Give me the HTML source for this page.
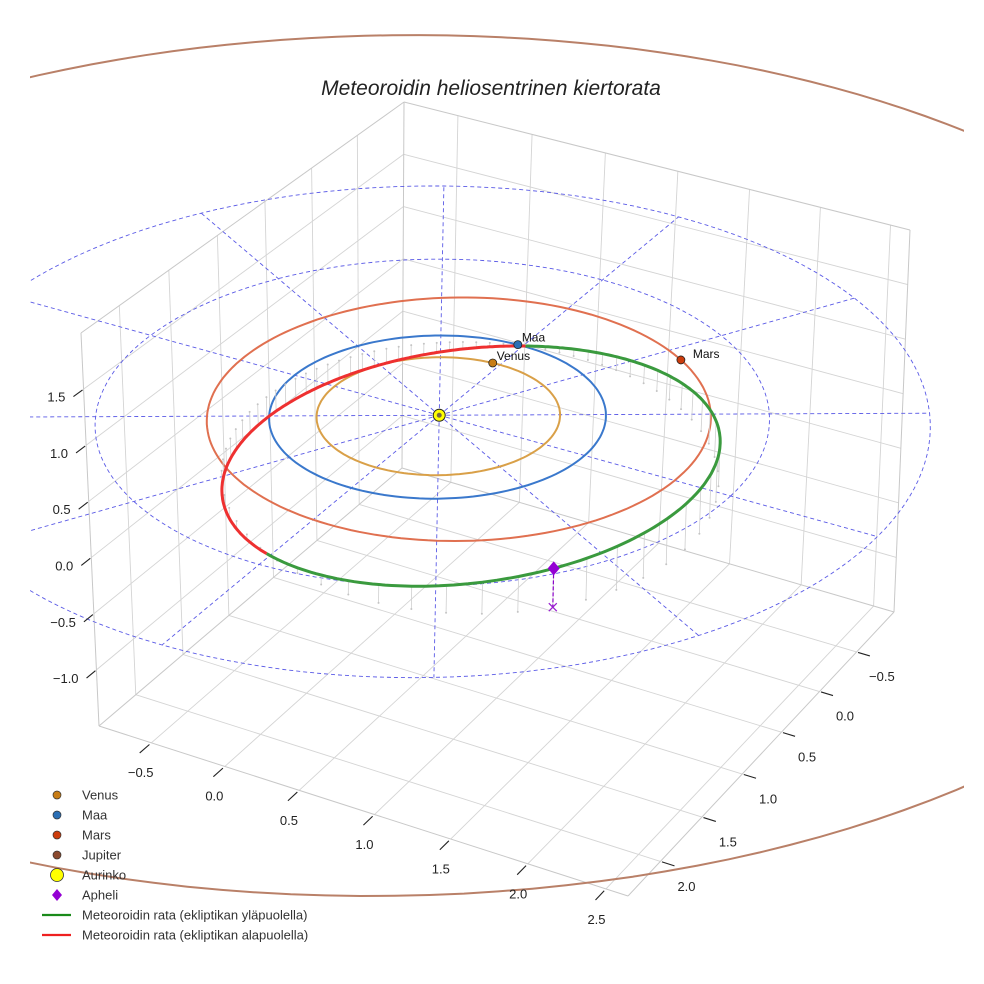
<!DOCTYPE html>
<html><head><meta charset="utf-8"><style>
html,body{margin:0;padding:0;background:#fff;}
svg{display:block;font-family:"Liberation Sans",sans-serif;}
</style></head><body>
<svg id="chart" width="984" height="984" viewBox="0 0 984 984" xmlns="http://www.w3.org/2000/svg">
<defs><clipPath id="clipA"><rect x="30" y="30" width="934" height="930"/></clipPath></defs>
<rect width="984" height="984" fill="#fff"/>
<text x="491" y="95" text-anchor="middle" font-size="21" font-style="italic" fill="#222">Meteoroidin heliosentrinen kiertorata</text>
<g id="grid"></g>
<g id="plot" clip-path="url(#clipA)"></g>
<g id="ticks"></g>
<g id="legend"></g>
</svg>
<script>
// ---- data ----
const xTicks=[-0.5,0,0.5,1,1.5,2,2.5];
const yTicks=[-0.5,0,0.5,1,1.5,2];
const zTicks=[-1,-0.5,0,0.5,1,1.5];
const xTickLabels=['\u22120.5','0.0','0.5','1.0','1.5','2.0','2.5'];
const yTickLabels=['\u22120.5','0.0','0.5','1.0','1.5','2.0'];
const zTickLabels=['\u22121.0','\u22120.5','0.0','0.5','1.0','1.5'];
const planetNames=['Venus','Maa','Mars'];
const planetRadii=[0.723,1.0,1.5];
const planetEcc=[0,0,0.093];
const planetPeri=[0,0,150];
const planetAngles=[-94,-92,-55];
const jupiterRadius=[5.2];
const refCircleRadii=[2,3];
const refRadialAngles=[0,30,60,90,120,150,180,210,240,270,300,330];
const meteorA=[1.639];
const meteorE=[0.45];
const meteorInc=[11];
const meteorNode=[270];
const meteorPeri=[313];
// ---- axes box ----
const xmin=-0.86,xmax=2.64,ymin=-1.02,ymax=2.38,zmin=-1.5,zmax=2.0;
const botC={B:[402,468],R:[894,612],F:[628,896],L:[99,726]};
const topC={B:[404,102],R:[910,230],F:[634,460],L:[81,333]};
function lerp(p,q,t){return [p[0]+(q[0]-p[0])*t,p[1]+(q[1]-p[1])*t];}
function proj(x,y,z){
  const u=(x-xmin)/(xmax-xmin),v=(y-ymin)/(ymax-ymin),w=(z-zmin)/(zmax-zmin);
  const p0=lerp(botC.B,topC.B,w),p1=lerp(botC.R,topC.R,w),p2=lerp(botC.F,topC.F,w),p3=lerp(botC.L,topC.L,w);
  const sx=p0[0]-p1[0]+p2[0]-p3[0],sy=p0[1]-p1[1]+p2[1]-p3[1];
  const dx1=p1[0]-p2[0],dx2=p3[0]-p2[0],dy1=p1[1]-p2[1],dy2=p3[1]-p2[1];
  const den=dx1*dy2-dx2*dy1;
  const g=(sx*dy2-dx2*sy)/den,h=(dx1*sy-sx*dy1)/den;
  const A=p1[0]-p0[0]+g*p1[0],Bc=p3[0]-p0[0]+h*p3[0],C=p0[0];
  const D=p1[1]-p0[1]+g*p1[1],E=p3[1]-p0[1]+h*p3[1],Fc=p0[1];
  const W=g*u+h*v+1;
  return [(A*u+Bc*v+C)/W,(D*u+E*v+Fc)/W];
}
const NS='http://www.w3.org/2000/svg';
function mk(tag,attrs,parent){const el=document.createElementNS(NS,tag);for(const k in attrs)el.setAttribute(k,attrs[k]);parent.appendChild(el);return el;}
function line3(p,q,style,parent){const s=proj(p[0],p[1],p[2]),t=proj(q[0],q[1],q[2]);return mk('line',Object.assign({x1:s[0],y1:s[1],x2:t[0],y2:t[1]},style),parent);}
function poly(pts){return pts.map(p=>p[0].toFixed(1)+','+p[1].toFixed(1)).join(' ');}
const gridG=document.getElementById('grid'),plotG=document.getElementById('plot'),ticksG=document.getElementById('ticks'),legendG=document.getElementById('legend');
const gs={stroke:'#d4d4d4','stroke-width':0.9};
const es={stroke:'#c8c8c8','stroke-width':1};
xTicks.forEach(x=>{const l=line3([x,ymin,zmin],[x,ymax,zmin],gs,gridG);

});
yTicks.forEach(y=>{const l=line3([xmin,y,zmin],[xmax,y,zmin],gs,gridG);

});
yTicks.forEach(y=>{const l=line3([xmin,y,zmin],[xmin,y,zmax],gs,gridG);

});
zTicks.forEach(z=>{const l=line3([xmin,ymin,z],[xmin,ymax,z],gs,gridG);

});
xTicks.forEach(x=>{const l=line3([x,ymin,zmin],[x,ymin,zmax],gs,gridG);

});
zTicks.forEach(z=>{const l=line3([xmin,ymin,z],[xmax,ymin,z],gs,gridG);

});
[[[xmin,ymax,zmin],[xmin,ymax,zmax]],[[xmax,ymin,zmin],[xmax,ymin,zmax]],[[xmin,ymin,zmax],[xmin,ymax,zmax]],[[xmin,ymin,zmax],[xmax,ymin,zmax]],[[xmin,ymax,zmin],[xmax,ymax,zmin]],[[xmax,ymin,zmin],[xmax,ymax,zmin]],[[xmin,ymin,zmin],[xmin,ymax,zmin]],[[xmin,ymin,zmin],[xmax,ymin,zmin]],[[xmin,ymin,zmin],[xmin,ymin,zmax]]].forEach(s=>{const l=line3(s[0],s[1],es,gridG);

});
const tk={stroke:'#222','stroke-width':1.1};
xTicks.forEach((x,i)=>{const p=proj(x,ymax+0.02,zmin),q=proj(x,ymax+0.12,zmin);
const l=mk('line',Object.assign({x1:p[0],y1:p[1],x2:q[0],y2:q[1]},tk),ticksG);


const t=mk('text',{x:q[0]+1,y:q[1]+24,'text-anchor':'middle','font-size':13,fill:'#222'},ticksG);t.textContent=xTickLabels[i];

});
yTicks.forEach((y,i)=>{const p=proj(xmax+0.01,y,zmin),q=proj(xmax+0.09,y,zmin);
const l=mk('line',Object.assign({x1:p[0],y1:p[1],x2:q[0],y2:q[1]},tk),ticksG);


const t=mk('text',{x:q[0]+12,y:q[1]+25,'text-anchor':'middle','font-size':13,fill:'#222'},ticksG);t.textContent=yTickLabels[i];

});
zTicks.forEach((z,i)=>{const p=proj(xmin,ymax+0.01,z),q=proj(xmin,ymax+0.1,z);
const l=mk('line',Object.assign({x1:p[0],y1:p[1],x2:q[0],y2:q[1]},tk),ticksG);


const t=mk('text',{x:q[0]-8,y:q[1]+5,'text-anchor':'end','font-size':13,fill:'#222'},ticksG);t.textContent=zTickLabels[i];

});
const ds={fill:'none',stroke:'#5a5ae6','stroke-width':0.9,'stroke-dasharray':'4,3'};
function orbitPts(r,ecc,periDeg,z){const pts=[];const pr=periDeg*Math.PI/180;for(let k=0;k<=360;k+=2){const t=k*Math.PI/180;const rr=r*(1-ecc*ecc)/(1+ecc*Math.cos(t-pr));pts.push(proj(rr*Math.cos(t),rr*Math.sin(t),z));}return pts;}
function circlePts(r,z){return orbitPts(r,0,0,z);}
refCircleRadii.forEach(r=>{const p=mk('polyline',Object.assign({points:poly(circlePts(r,0))},ds),plotG);

});
const rMax=Math.max(...refCircleRadii);
refRadialAngles.forEach(ang=>{const t=ang*Math.PI/180;const l=line3([0,0,0],[rMax*Math.cos(t),rMax*Math.sin(t),0],ds,plotG);

});
const jp=mk('polyline',{points:poly(circlePts(jupiterRadius[0],0)),fill:'none',stroke:'#b98068','stroke-width':2},plotG);


const orbitColors=['#d9a048','#3a78cc','#e07050'];
const planetColors=['#c87d16','#2a6fb5','#cc3c0c'];
planetNames.forEach((n,i)=>{const p=mk('polyline',{points:poly(orbitPts(planetRadii[i],planetEcc[i],planetPeri[i],0)),fill:'none',stroke:orbitColors[i],'stroke-width':2},plotG);

});
const mA=meteorA[0],mE=meteorE[0],inc=meteorInc[0]*Math.PI/180,Om=meteorNode[0]*Math.PI/180,om=meteorPeri[0]*Math.PI/180;
function mpos(nuDeg){const nu=nuDeg*Math.PI/180;const r=mA*(1-mE*mE)/(1+mE*Math.cos(nu));const uu=om+nu;
return [r*(Math.cos(Om)*Math.cos(uu)-Math.sin(Om)*Math.sin(uu)*Math.cos(inc)),r*(Math.sin(Om)*Math.cos(uu)+Math.cos(Om)*Math.sin(uu)*Math.cos(inc)),r*Math.sin(uu)*Math.sin(inc)];}
for(let nu=0;nu<360;nu+=5){const P=mpos(nu);const s=line3(P,[P[0],P[1],0],{stroke:'#cfcfcf','stroke-width':0.8},plotG);


const q=proj(P[0],P[1],0);const d=mk('circle',{cx:q[0],cy:q[1],r:1,fill:'#c4c4c4'},plotG);

}
let segs=[],cur=null,curSign=null;
for(let nu=0;nu<=360;nu+=1){const P=mpos(nu);const s=P[2]>=0;const sp=proj(P[0],P[1],P[2]);
if(curSign===null||s!==curSign){if(cur){cur.pts.push(sp);segs.push(cur);}cur={up:s,pts:[sp]};curSign=s;}else cur.pts.push(sp);}
segs.push(cur);
segs.forEach(sg=>{const p=mk('polyline',{points:poly(sg.pts),fill:'none',stroke:sg.up?'#3a9a3e':'#ee3030','stroke-width':3,'stroke-linejoin':'round'},plotG);

});
const AP=mpos(180),ap=proj(AP[0],AP[1],AP[2]),ag=proj(AP[0],AP[1],0);
const al=mk('line',{x1:ap[0],y1:ap[1],x2:ag[0],y2:ag[1],stroke:'#8a00c8','stroke-width':1.2,'stroke-dasharray':'4,2'},plotG);


const ax=mk('path',{d:`M${ag[0]-4},${ag[1]-4}L${ag[0]+4},${ag[1]+4}M${ag[0]-4},${ag[1]+4}L${ag[0]+4},${ag[1]-4}`,stroke:'#9a20d0','stroke-width':1.3},plotG);


const ad=mk('path',{d:`M${ap[0]},${ap[1]-7}L${ap[0]+6},${ap[1]}L${ap[0]},${ap[1]+7}L${ap[0]-6},${ap[1]}Z`,fill:'#9400d3'},plotG);


planetNames.forEach((n,i)=>{const t=planetAngles[i]*Math.PI/180;const rr=planetRadii[i]*(1-planetEcc[i]*planetEcc[i])/(1+planetEcc[i]*Math.cos(t-planetPeri[i]*Math.PI/180));const p=proj(rr*Math.cos(t),rr*Math.sin(t),0);
const c=mk('circle',{cx:p[0],cy:p[1],r:4,fill:planetColors[i],stroke:'#222','stroke-width':0.8},plotG);


const tx=mk('text',{x:p[0]+(n==='Mars'?12:4),y:p[1]+(n==='Mars'?-2:-3),'font-size':12,fill:'#111'},plotG);tx.textContent=n;

});
const sp0=proj(0,0,0);
const sun=mk('circle',{cx:sp0[0],cy:sp0[1],r:6,fill:'#ffff00',stroke:'#222','stroke-width':1},plotG);


const sun2=mk('circle',{cx:sp0[0],cy:sp0[1],r:2.5,fill:'#7a6a40'},plotG);


const legNames=['Venus','Maa','Mars','Jupiter','Aurinko','Apheli','Meteoroidin rata (ekliptikan yläpuolella)','Meteoroidin rata (ekliptikan alapuolella)'];
const legColors=['#c87d16','#2a6fb5','#cc3c0c','#8b4a2e','#ffff00','#9400d3','#1a8a1a','#ee2020'];
legNames.forEach((n,i)=>{const y=795+i*20;
let m;
if(i<4)m=mk('circle',{cx:57,cy:y,r:4,fill:legColors[i],stroke:'#333','stroke-width':0.7},legendG);
else if(i===4)m=mk('circle',{cx:57,cy:y,r:6.5,fill:legColors[i],stroke:'#333','stroke-width':0.8},legendG);
else if(i===5)m=mk('path',{d:`M57,${y-6}L62,${y}L57,${y+6}L52,${y}Z`,fill:legColors[i]},legendG);
else m=mk('line',{x1:42,y1:y,x2:71,y2:y,stroke:legColors[i],'stroke-width':2.2},legendG);


const t=mk('text',{x:82,y:y+4.5,'font-size':13,fill:'#333'},legendG);t.textContent=n;

});
</script>
</body></html>
